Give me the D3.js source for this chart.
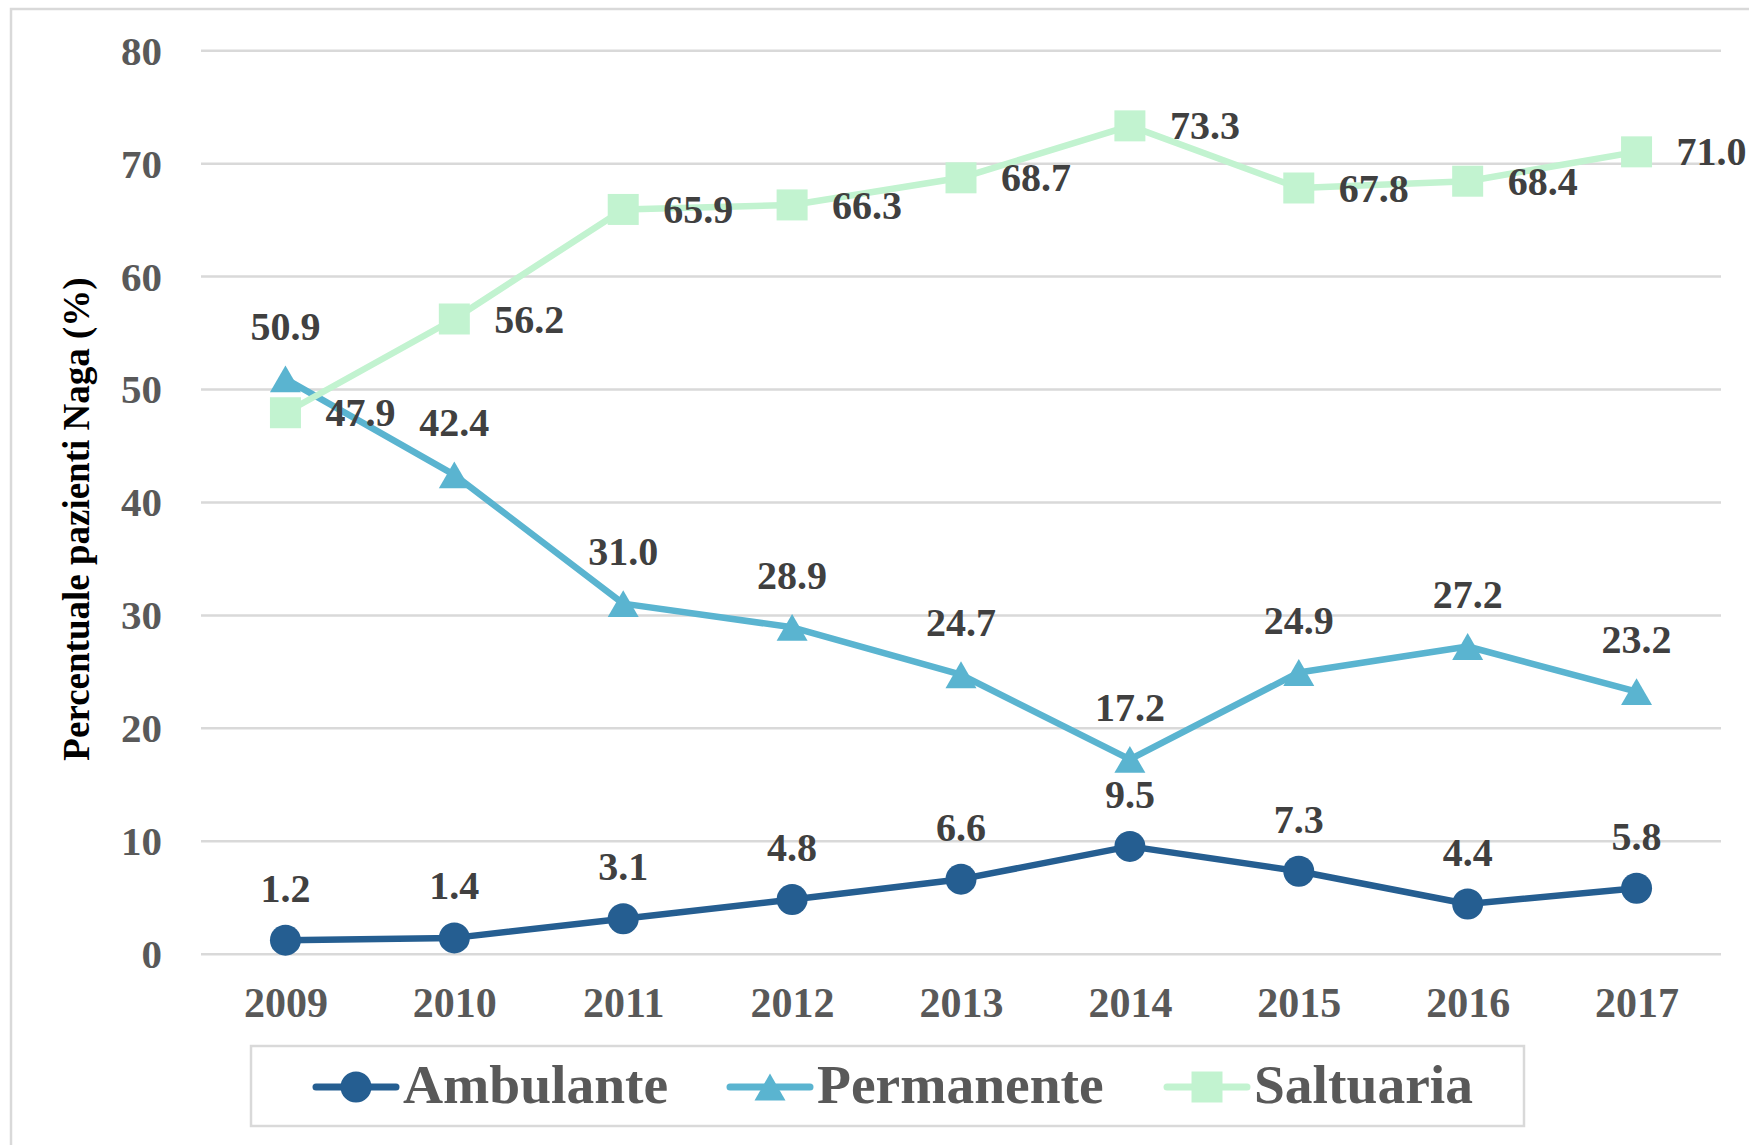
<!DOCTYPE html>
<html>
<head>
<meta charset="UTF-8">
<title>Percentuale pazienti Naga</title>
<style>
	body { margin: 0; background: #ffffff; }
	svg text { font-family: "Liberation Serif", "Times New Roman", serif; font-weight: bold; }
</style>
</head>
<body>
<div id="vis"></div>
<script src="https://d3js.org/d3.v7.min.js"></script>
<script>
// data
var years = ["2009", "2010", "2011", "2012", "2013", "2014", "2015", "2016", "2017"];
var ambulante = [1.2, 1.4, 3.1, 4.8, 6.6, 9.5, 7.3, 4.4, 5.8];
var permanente = [50.9, 42.4, 31.0, 28.9, 24.7, 17.2, 24.9, 27.2, 23.2];
var saltuaria = [47.9, 56.2, 65.9, 66.3, 68.7, 73.3, 67.8, 68.4, 71.0];
var yTicks = [0, 10, 20, 30, 40, 50, 60, 70, 80];
var seriesNames = ["Ambulante", "Permanente", "Saltuaria"];

var width = 1749, height = 1145;
var plot = {left: 201, right: 1721, top: 50.2, bottom: 953.7};

var series = [
	{name: seriesNames[0], values: ambulante, color: "#255e91", shape: d3.symbolCircle, size: 755, label: "above"},
	{name: seriesNames[1], values: permanente, color: "#5ab4d0", shape: d3.symbolTriangle, size: 416, label: "above"},
	{name: seriesNames[2], values: saltuaria, color: "#c2f3d0", shape: d3.symbolSquare, size: 961, label: "right"}
];

var svg = d3.select("#vis").append("svg")
	.attr("width", width)
	.attr("height", height);

// outer chart border (runs off the right/bottom of the picture)
svg.append("rect")
	.attr("x", 11).attr("y", 9)
	.attr("width", width + 20).attr("height", height + 20)
	.attr("fill", "#ffffff")
	.attr("stroke", "#d9d9d9")
	.attr("stroke-width", 2.5);

var x = d3.scalePoint().domain(years).range([plot.left, plot.right]).padding(0.5);
var y = d3.scaleLinear().domain([0, 80]).range([plot.bottom, plot.top]);

// y axis with gridlines
var yAxis = svg.append("g")
	.attr("transform", "translate(" + plot.left + ",0)")
	.call(d3.axisLeft(y).tickValues(yTicks).tickSize(-(plot.right - plot.left)).tickPadding(39));
yAxis.select(".domain").remove();
yAxis.selectAll(".tick line").attr("stroke", "#d9d9d9").attr("stroke-width", 2.5);
yAxis.selectAll(".tick text")
	.attr("fill", "#595959")
	.style("font-size", "41px")
	.attr("dy", "0.34em");

// x axis labels
var xAxis = svg.append("g")
	.attr("transform", "translate(0," + plot.bottom + ")")
	.call(d3.axisBottom(x).tickSize(0).tickPadding(33));
xAxis.select(".domain").remove();
xAxis.selectAll(".tick text")
	.attr("fill", "#595959")
	.style("font-size", "42px");

// y axis title
svg.append("text")
	.attr("transform", "translate(89," + 519 + ") rotate(-90)")
	.attr("text-anchor", "middle")
	.attr("fill", "#000000")
	.style("font-size", "37px")
	.text("Percentuale pazienti Naga (%)");

var line = d3.line()
	.x(function(d, i) { return x(years[i]); })
	.y(function(d) { return y(d); });

function symbolPath(s) {
	return d3.symbol().type(s.shape).size(s.size)();
}
// triangles are centred on their box, not on their centroid
function symbolShift(s) {
	if (s.shape === d3.symbolTriangle) {
		return Math.sqrt(s.size / (Math.sqrt(3) * 3)) / 2;
	}
	return 0;
}

series.forEach(function(s) {
	svg.append("path")
		.datum(s.values)
		.attr("d", line)
		.attr("fill", "none")
		.attr("stroke", s.color)
		.attr("stroke-width", 6.5)
		.attr("stroke-linejoin", "round");
	svg.selectAll(null)
		.data(s.values)
		.enter()
		.append("path")
		.attr("d", symbolPath(s))
		.attr("transform", function(d, i) {
			return "translate(" + x(years[i]) + "," + (y(d) + symbolShift(s)) + ")";
		})
		.attr("fill", s.color);
});

// data labels on top
series.forEach(function(s) {
	svg.selectAll(null)
		.data(s.values)
		.enter()
		.append("text")
		.attr("x", function(d, i) { return s.label === "right" ? x(years[i]) + 40 : x(years[i]); })
		.attr("y", function(d) { return s.label === "right" ? y(d) : y(d) - 52; })
		.attr("dy", "0.34em")
		.attr("text-anchor", s.label === "right" ? "start" : "middle")
		.attr("fill", "#404040")
		.style("font-size", "40px")
		.text(function(d) { return d.toFixed(1); });
});

// legend
var legend = svg.append("g");
legend.append("rect")
	.attr("x", 251).attr("y", 1046)
	.attr("width", 1273).attr("height", 80)
	.attr("fill", "#ffffff")
	.attr("stroke", "#d9d9d9")
	.attr("stroke-width", 2.5);

var legendX = [356, 770, 1207];
var legendY = 1087;
series.forEach(function(s, i) {
	var g = legend.append("g").attr("transform", "translate(" + legendX[i] + "," + legendY + ")");
	g.append("line")
		.attr("x1", -40).attr("x2", 40)
		.attr("stroke", s.color)
		.attr("stroke-width", 7)
		.attr("stroke-linecap", "round");
	g.append("path")
		.attr("d", symbolPath(s))
		.attr("transform", "translate(0," + symbolShift(s) + ")")
		.attr("fill", s.color);
	g.append("text")
		.attr("x", 47)
		.attr("y", 16)
		.attr("fill", "#595959")
		.style("font-size", "55.5px")
		.text(s.name);
});
</script>
</body>
</html>
